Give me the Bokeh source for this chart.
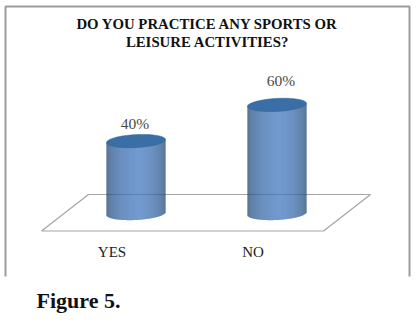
import numpy as np
from bokeh.plotting import figure
from bokeh.models import Range1d, Label
from bokeh.core.properties import value
from bokeh.embed import file_html
from bokeh.resources import INLINE

categories = ["YES", "NO"]
percent = [40, 60]
value_labels = ["40%", "60%"]
title_lines = ["DO YOU PRACTICE ANY SPORTS OR", "LEISURE ACTIVITIES?"]
caption = "Figure 5."

W, H = 418, 322
X0, DX = 135.5, 141.0   # px centre of first cylinder, spacing
Y0, DY = 213.0, 1.81    # px of 0 %, px per percent
HALF_W_PX, HALF_H_PX = 29.5, 6.5
TILT_PX = 1.5
LABEL_DX = [-1, 4]
LABEL_DY = [-9, -16]

p = figure(width=W, height=H, output_backend="svg", toolbar_location=None,
           x_range=Range1d(-X0 / DX, (W - X0) / DX),
           y_range=Range1d((Y0 - H) / DY, Y0 / DY),
           min_border=0, outline_line_color=None)
p.axis.visible = False
p.grid.visible = False
p.background_fill_color = "white"

def px(v):
    return (v - X0) / DX
def py(v):
    return (Y0 - v) / DY

# frame (three sides, open at the bottom)
frame_x = [5, 5, 409, 409]
frame_y = [276, 6, 6, 276]
p.line([px(v) for v in frame_x], [py(v) for v in frame_y], line_color="#9c9c9c", line_width=2)

# floor
floor_x = [41, 88, 370, 323, 41]
floor_y = [230.5, 194, 194, 230.5, 230.5]
p.line([px(v) for v in floor_x], [py(v) for v in floor_y], line_color="#a8a4a4", line_width=1.2)

stops_t = [-1.0, -0.85, -0.5, 0.1, 0.55, 0.85, 1.0]
stops_rgb = [(36, 70, 108), (44, 88, 140), (58, 108, 172), (70, 122, 194),
             (60, 110, 174), (46, 90, 142), (38, 74, 116)]

def shade(t):
    return "#%02x%02x%02x" % tuple(int(np.interp(t, stops_t, [c[i] for c in stops_rgb])) for i in range(3))

hw = HALF_W_PX / DX
hh = HALF_H_PX / DY
tilt = TILT_PX / DY
N = 59
edges = np.linspace(-1, 1, N + 1)
mid = (edges[:-1] + edges[1:]) / 2
arc = hh * np.sqrt(1 - mid ** 2)
for i, v in enumerate(percent):
    p.quad(left=i + edges[:-1] * hw, right=i + edges[1:] * hw,
           top=v + tilt * mid, bottom=tilt * mid - arc,
           fill_color=[shade(t) for t in mid], line_color=None)
    theta = np.linspace(0, 2 * np.pi, 80)
    ct = np.cos(theta)
    p.patch(i + hw * ct, v + tilt * ct + hh * np.sin(theta),
            fill_color="#3a6ea6", line_color="#33648f", line_width=0.5)
    p.text(x=[i], y=[v], text=[value_labels[i]], text_align="center", text_baseline="bottom",
           y_offset=LABEL_DY[i], x_offset=LABEL_DX[i], text_font=value("Liberation Serif"),
           text_font_size="15.5px", text_color="#4a4a4a")

p.text(x=[i - 24 / DX for i in range(2)], y=[py(251)] * 2, text=categories, text_align="center", text_baseline="middle",
       text_font=value("Liberation Serif"), text_font_size="15px", text_color="#222222")

for line, yy in zip(title_lines, [23, 41.5]):
    p.add_layout(Label(x=207, y=H - yy, x_units="screen", y_units="screen", text=line, text_align="center",
                       text_baseline="middle", text_font="Liberation Serif", text_font_style="bold",
                       text_font_size="14.8px", text_color="#111111"))
p.add_layout(Label(x=36, y=H - 299.5, x_units="screen", y_units="screen", text=caption, text_align="left",
                   text_baseline="middle", text_font="Liberation Serif", text_font_style="bold",
                   text_font_size="22px", text_color="#111111"))

open("out.html", "w").write(file_html(p, INLINE))
